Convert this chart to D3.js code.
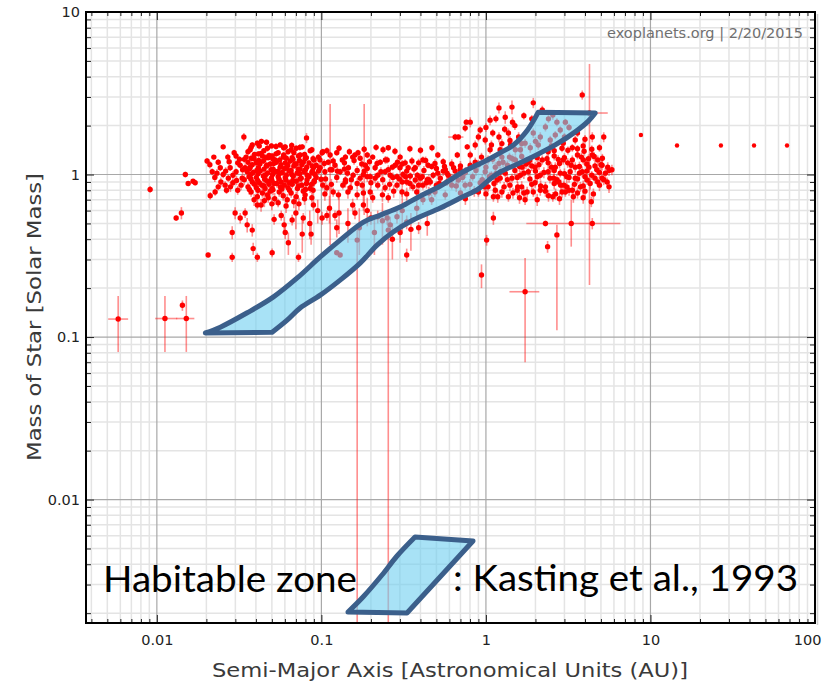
<!DOCTYPE html>
<html>
<head>
<meta charset="utf-8">
<script src="https://cdn.jsdelivr.net/npm/d3@7"></script>
<style>
  body { margin: 0; background: #fff; }
  svg { display: block; }
</style>
</head>
<body>
<svg id="chart" width="832" height="683"></svg>
<script>
// ---- axis labels ----
const xTickValues = [0.01, 0.1, 1, 10, 100];
const xTickLabels = ["0.01", "0.1", "1", "10", "100"];
const yTickValues = [0.01, 0.1, 1, 10];
const yTickLabels = ["0.01", "0.1", "1", "10"];
const xTitle = "Semi-Major Axis [Astronomical Units (AU)]";
const yTitle = "Mass of Star [Solar Mass]";
const credit = "exoplanets.org | 2/20/2015";
const legendLabel = "Habitable zone";
const legendSource = ": Kasting et al., 1993";

// ---- planets: [semi-major axis (AU), host star mass (Msun), mass uncertainty (Msun)] ----
const planets = [
  [0.0091,0.81,0.04],[0.0149,1.0,0.04],[0.0155,0.88,0.03],[0.0166,0.91,0.03],[0.0171,0.89,0.03],
  [0.0131,0.54,0.02],[0.0141,0.58,0.05],[0.0205,0.32,0.01],[0.0202,1.21,0.05],[0.0222,1.28,0.04],
  [0.0236,1.19,0.05],[0.0253,1.48,0.05],[0.0338,1.70,0.10],[0.0303,1.30,0.05],[0.031,1.18,0.06],
  [0.0211,0.74,0.04],[0.0226,0.78,0.04],[0.0236,0.84,0.04],[0.026,0.86,0.05],[0.0272,0.95,0.05],
  [0.0253,1.0,0.05],[0.0243,1.10,0.05],[0.0217,1.04,0.05],[0.0279,1.10,0.05],[0.029,0.89,0.05],
  [0.0265,0.80,0.04],[0.0303,1.04,0.05],[0.0321,1.14,0.05],[0.033,0.95,0.05],[0.031,0.80,0.05],
  [0.0344,1.10,0.06],
  [0.021,1.15,0.06],[0.0225,0.96,0.06],[0.0245,0.90,0.06],[0.0262,1.05,0.06],[0.0275,1.20,0.06],
  [0.029,0.99,0.06],[0.0305,0.92,0.06],[0.0318,1.24,0.06],[0.0325,0.86,0.06],[0.028,0.84,0.06],
  [0.0232,1.02,0.06],[0.0295,1.36,0.06],[0.027,1.28,0.06],
  [0.0358,1.38,0.06],[0.038,1.52,0.06],[0.0408,1.56,0.06],[0.0432,1.60,0.06],[0.0464,1.58,0.06],
  [0.0497,1.50,0.06],[0.0562,1.52,0.06],[0.0603,1.48,0.06],[0.0655,1.42,0.06],[0.0703,1.45,0.06],
  [0.0765,1.48,0.06],[0.0812,1.68,0.12],[0.0875,1.42,0.06],[0.096,1.28,0.06],[0.101,1.36,0.06],
  [0.0374,1.47,0.07],[0.0419,1.50,0.07],[0.047,1.45,0.07],[0.053,1.49,0.07],[0.059,1.46,0.07],
  [0.066,1.51,0.07],[0.074,1.47,0.07],
  [0.0369,1.42,0.05],[0.0414,1.34,0.05],[0.0447,1.40,0.05],[0.0502,1.30,0.05],[0.0546,1.36,0.05],
  [0.0627,1.38,0.05],[0.0743,1.32,0.05],[0.0855,1.40,0.05],
  [0.0392,1.33,0.05],[0.043,1.35,0.05],[0.0481,1.31,0.05],[0.053,1.34,0.05],[0.059,1.32,0.05],
  [0.068,1.36,0.05],[0.079,1.33,0.05],
  [0.0349,1.28,0.05],[0.039,1.25,0.05],[0.0438,1.30,0.05],[0.0475,1.27,0.05],[0.0524,1.23,0.05],
  [0.0586,1.28,0.05],[0.0664,1.27,0.05],[0.0726,1.30,0.05],[0.0797,1.25,0.05],[0.0903,1.23,0.05],
  [0.034,1.24,0.07],[0.0375,1.26,0.07],[0.0416,1.22,0.07],[0.046,1.27,0.07],[0.0506,1.25,0.07],
  [0.0558,1.23,0.07],[0.0612,1.26,0.07],[0.0672,1.24,0.07],[0.0735,1.22,0.07],[0.081,1.27,0.07],
  [0.089,1.25,0.07],[0.098,1.23,0.07],
  [0.0358,1.19,0.05],[0.0402,1.18,0.05],[0.0444,1.21,0.05],[0.0489,1.16,0.05],[0.0532,1.19,0.05],
  [0.0603,1.18,0.05],[0.0646,1.21,0.05],[0.0703,1.16,0.05],[0.0776,1.19,0.05],[0.0841,1.18,0.05],
  [0.093,1.14,0.05],
  [0.038,1.15,0.05],[0.0423,1.16,0.05],[0.0466,1.14,0.05],[0.0513,1.17,0.05],[0.0568,1.15,0.05],
  [0.0625,1.14,0.05],[0.069,1.16,0.05],[0.076,1.15,0.05],[0.088,1.13,0.05],
  [0.0369,1.11,0.05],[0.0414,1.10,0.05],[0.0464,1.13,0.05],[0.0509,1.08,0.05],[0.0562,1.11,0.05],
  [0.0616,1.10,0.05],[0.068,1.13,0.05],[0.0743,1.08,0.05],[0.0815,1.11,0.05],[0.0894,1.10,0.05],
  [0.0332,1.07,0.07],[0.0366,1.09,0.07],[0.0405,1.06,0.07],[0.0448,1.08,0.07],[0.0494,1.07,0.07],
  [0.0545,1.05,0.07],[0.0598,1.09,0.07],[0.0655,1.06,0.07],[0.0722,1.08,0.07],[0.08,1.07,0.07],
  [0.0882,1.05,0.07],[0.0975,1.09,0.07],
  [0.0354,1.04,0.05],[0.0385,1.03,0.05],[0.0425,1.05,0.05],[0.047,1.02,0.05],[0.0524,1.04,0.05],
  [0.0578,1.03,0.05],[0.0636,1.05,0.05],[0.0712,1.02,0.05],[0.0786,1.04,0.05],[0.0875,1.03,0.05],
  [0.096,1.05,0.05],
  [0.0372,1.0,0.05],[0.0412,1.01,0.05],[0.0456,0.99,0.05],[0.0505,1.0,0.05],[0.0555,1.01,0.05],
  [0.0612,0.99,0.05],[0.066,1.0,0.05],[0.074,1.01,0.05],[0.082,0.99,0.05],[0.0915,1.0,0.05],
  [0.0363,0.97,0.05],[0.0402,0.96,0.05],[0.0444,0.98,0.05],[0.0497,0.95,0.05],[0.0546,0.97,0.05],
  [0.0603,0.96,0.05],[0.0675,0.98,0.05],[0.0754,0.95,0.05],[0.0841,0.97,0.05],[0.093,0.96,0.05],
  [0.034,0.93,0.07],[0.0373,0.94,0.07],[0.041,0.92,0.07],[0.0452,0.935,0.07],[0.05,0.915,0.07],
  [0.0552,0.94,0.07],[0.0608,0.925,0.07],[0.067,0.92,0.07],[0.074,0.94,0.07],[0.0818,0.93,0.07],
  [0.0905,0.915,0.07],[0.0995,0.935,0.07],
  [0.038,0.90,0.05],[0.0419,0.89,0.05],[0.047,0.91,0.05],[0.0516,0.88,0.05],[0.057,0.90,0.05],
  [0.0636,0.89,0.05],[0.0703,0.91,0.05],[0.0812,0.88,0.05],[0.0903,0.90,0.05],
  [0.0392,0.87,0.05],[0.0435,0.86,0.05],[0.048,0.87,0.05],[0.0535,0.88,0.05],[0.0595,0.86,0.05],
  [0.0665,0.87,0.05],[0.076,0.86,0.05],[0.087,0.87,0.05],
  [0.0358,0.84,0.05],[0.0402,0.83,0.05],[0.0447,0.85,0.05],[0.0502,0.82,0.05],[0.0562,0.84,0.05],
  [0.0627,0.83,0.05],[0.0726,0.85,0.05],[0.0855,0.82,0.05],
  [0.0365,0.81,0.06],[0.0412,0.80,0.06],[0.0455,0.82,0.06],[0.0508,0.805,0.06],[0.0575,0.815,0.06],
  [0.064,0.80,0.06],[0.0715,0.82,0.06],[0.08,0.81,0.06],[0.089,0.80,0.06],
  [0.0374,0.78,0.05],[0.0438,0.77,0.05],[0.0489,0.79,0.05],[0.0554,0.78,0.05],[0.0655,0.77,0.05],
  [0.0776,0.79,0.05],
  [0.0408,0.73,0.05],[0.0475,0.72,0.05],[0.0586,0.74,0.05],[0.0703,0.73,0.05],[0.0875,0.72,0.05],
  [0.039,0.70,0.06],[0.045,0.69,0.06],[0.052,0.71,0.06],[0.062,0.70,0.06],[0.068,0.68,0.06],
  [0.079,0.71,0.06],[0.043,0.65,0.06],[0.05,0.66,0.06],[0.061,0.64,0.06],[0.073,0.66,0.06],
  [0.0299,0.58,0.05],[0.0344,0.58,0.04],[0.0321,0.54,0.04],[0.0354,0.49,0.05],[0.038,0.455,0.04],
  [0.0287,0.44,0.04],[0.0385,0.35,0.03],[0.0408,0.31,0.02],[0.0287,0.31,0.02],[0.0502,0.33,0.02],
  [0.0726,0.31,0.02],[0.0516,0.53,0.04],[0.057,0.56,0.04],[0.0594,0.49,0.06],[0.0664,0.525,0.04],
  [0.0603,0.44,0.04],[0.0776,0.54,0.04],[0.0765,0.43,0.10],[0.0866,0.43,0.06],[0.0894,0.65,0.05],
  [0.0797,0.75,0.04],[0.0546,0.67,0.04],[0.047,0.75,0.04],[0.0408,0.65,0.04],
  [0.102,1.38,0.06],[0.113,1.32,0.06],[0.124,1.36,0.05],[0.14,1.28,0.06],[0.155,1.28,0.05],
  [0.16,1.32,0.05],[0.167,1.36,0.06],[0.172,1.26,0.05],[0.19,1.32,0.06],[0.205,1.28,0.05],
  [0.237,1.42,0.08],[0.255,1.46,0.06],[0.251,1.23,0.06],[0.27,1.11,0.05],[0.301,1.28,0.06],
  [0.323,1.18,0.06],[0.337,1.10,0.05],[0.414,1.23,0.06],[0.445,1.14,0.05],[0.51,1.32,0.06],
  [0.55,1.20,0.06],[0.68,1.70,0.06],[0.67,1.32,0.06],[0.748,1.93,0.10],[0.76,2.10,0.08],
  [0.77,1.48,0.06],
  [0.108,1.40,0.07],[0.128,1.45,0.07],[0.148,1.38,0.07],[0.182,1.43,0.07],[0.215,1.47,0.07],
  [0.28,1.39,0.07],[0.345,1.44,0.07],[0.40,1.41,0.07],[0.47,1.46,0.07],
  [0.104,1.17,0.07],[0.118,1.21,0.07],[0.138,1.18,0.07],[0.158,1.22,0.07],[0.176,1.16,0.07],
  [0.196,1.20,0.07],[0.218,1.17,0.07],[0.245,1.23,0.07],[0.29,1.19,0.07],[0.31,1.16,0.07],
  [0.355,1.21,0.07],[0.39,1.18,0.07],[0.43,1.22,0.07],[0.49,1.17,0.07],
  [0.125,1.05,0.07],[0.138,1.08,0.07],[0.165,1.06,0.07],[0.19,1.09,0.07],[0.23,1.04,0.07],
  [0.255,1.07,0.07],[0.30,1.10,0.07],[0.33,1.05,0.07],[0.365,1.08,0.07],[0.42,1.06,0.07],
  [0.50,1.09,0.07],[0.55,1.05,0.07],
  [0.0984,1.10,0.05],[0.105,1.04,0.05],[0.116,1.07,0.05],[0.13,1.04,0.05],[0.144,1.02,0.05],
  [0.156,0.99,0.05],[0.18,1.0,0.05],[0.198,0.97,0.05],[0.22,0.99,0.05],[0.244,1.04,0.05],
  [0.262,0.99,0.05],[0.288,0.97,0.05],[0.313,1.0,0.05],[0.347,0.98,0.05],[0.383,0.99,0.05],
  [0.41,0.97,0.05],[0.44,0.93,0.05],[0.478,0.99,0.05],[0.51,1.02,0.05],[0.566,1.07,0.05],
  [0.59,0.99,0.05],[0.636,1.10,0.05],[0.698,1.07,0.05],
  [0.106,0.94,0.07],[0.124,0.96,0.07],[0.152,0.93,0.07],[0.19,0.97,0.07],[0.212,0.95,0.07],
  [0.236,0.93,0.07],[0.272,0.96,0.07],[0.298,0.94,0.07],[0.325,0.97,0.07],[0.40,0.95,0.07],
  [0.45,0.93,0.07],
  [0.115,0.87,0.07],[0.14,0.90,0.07],[0.165,0.88,0.07],[0.20,0.89,0.07],[0.26,0.87,0.07],
  [0.31,0.90,0.07],[0.345,0.88,0.07],[0.39,0.86,0.07],[0.435,0.89,0.07],[0.52,0.88,0.07],
  [0.102,0.86,0.05],[0.108,0.83,0.05],[0.118,0.78,0.05],[0.127,0.75,0.05],[0.135,0.86,0.05],
  [0.150,0.83,0.05],[0.165,0.75,0.05],[0.177,0.86,0.05],[0.198,0.78,0.05],[0.205,0.72,0.05],
  [0.22,0.86,0.05],[0.244,0.83,0.05],[0.255,0.72,0.05],[0.288,0.86,0.05],[0.309,0.78,0.05],
  [0.33,0.90,0.05],[0.36,0.84,0.05],[0.414,0.86,0.05],[0.459,0.90,0.05],[0.50,0.86,0.05],
  [0.58,0.90,0.05],[0.62,0.86,0.05],[0.68,0.925,0.05],
  [0.105,0.76,0.07],[0.145,0.78,0.07],[0.18,0.77,0.07],[0.235,0.75,0.07],[0.275,0.79,0.07],
  [0.33,0.76,0.07],[0.38,0.78,0.07],[0.45,0.77,0.07],
  [0.101,0.54,0.05],[0.108,0.56,0.04],[0.121,0.56,0.04],[0.124,0.47,0.06],[0.155,0.65,0.06],
  [0.16,0.58,0.05],[0.18,0.65,0.05],[0.20,0.54,0.05],[0.22,0.55,0.05],[0.251,0.54,0.05],
  [0.262,0.49,0.06],[0.288,0.55,0.05],[0.301,0.44,0.06],[0.33,0.51,0.05],[0.39,0.47,0.04],
  [0.414,0.70,0.05],[0.468,0.70,0.05],[0.33,0.32,0.03],[0.124,0.33,0.01],[0.13,0.32,0.01],
  [0.112,0.62,0.12],[0.128,0.58,0.15],[0.145,0.50,0.12],[0.17,0.47,0.15],[0.19,0.60,0.12],
  [0.21,0.44,0.12],[0.235,0.52,0.15],[0.27,0.40,0.10],[0.31,0.60,0.15],[0.35,0.46,0.12],
  [0.44,0.50,0.08],[0.38,0.62,0.10],[0.095,0.60,0.10],[0.085,0.50,0.10],[0.07,0.58,0.12],
  [0.063,0.38,0.06],
  [0.11,1.19,0.05],[0.121,1.14,0.05],[0.134,1.23,0.05],[0.146,1.10,0.05],[0.185,1.14,0.05],
  [0.212,1.10,0.05],[0.228,1.19,0.05],[0.281,1.14,0.05],[0.372,1.10,0.05],[0.468,1.12,0.05],
  [0.528,0.95,0.05],[0.72,0.99,0.05],[0.748,0.86,0.05],[0.14,0.925,0.05],[0.172,0.95,0.05],
  [0.372,0.925,0.05],[0.49,0.78,0.05],[0.566,0.75,0.05],
  [3.85,3.09,0.20],[1.94,2.76,0.20],[1.44,2.60,0.25],[1.20,2.57,0.20],[1.31,2.25,0.20],
  [1.06,2.16,0.15],[0.803,2.10,0.15],[1.45,2.10,0.15],[2.55,2.32,0.15],[4.43,1.70,0.12],
  [5.20,1.70,0.12],[1.20,1.70,0.12],[1.37,1.80,0.12],[1.58,1.70,0.12],[1.73,1.56,0.10],
  [1.94,1.80,0.12],[2.14,1.70,0.12],[2.30,1.96,0.12],[2.46,1.63,0.10],[2.95,1.56,0.10],
  [3.49,1.63,0.10],[0.923,1.88,0.10],[0.99,1.63,0.10],[0.861,1.52,0.10],[1.08,1.52,0.10],
  [1.51,1.42,0.10],[1.86,1.46,0.10],[2.08,1.52,0.10],[2.39,1.38,0.10],
  [0.9,1.70,0.10],[1.0,1.95,0.12],[1.1,1.80,0.10],[1.15,2.20,0.12],[1.3,1.90,0.10],
  [1.5,2.00,0.12],[1.7,2.30,0.12],[1.9,2.20,0.12],[2.2,2.50,0.15],[2.4,2.20,0.12],
  [2.7,2.10,0.12],[3.2,1.95,0.10],[3.0,1.70,0.10],[3.6,1.80,0.10],[4.0,1.65,0.10],
  [1.4,1.62,0.10],[1.25,1.55,0.10],[1.65,1.55,0.10],[2.0,1.60,0.10],[2.5,1.50,0.10],
  [3.9,1.50,0.10],
  [2.6,1.40,0.08],[2.9,1.45,0.08],[3.15,1.41,0.08],[3.6,1.44,0.08],[3.95,1.39,0.08],
  [4.4,1.43,0.08],[4.9,1.46,0.08],
  [3.35,1.46,0.08],[3.60,1.32,0.08],[3.91,1.23,0.08],[4.43,1.32,0.08],[4.78,1.23,0.08],
  [5.08,1.14,0.08],[5.50,1.11,0.08],[5.83,1.07,0.08],[5.32,1.02,0.08],[4.72,1.07,0.08],
  [4.23,1.11,0.08],[3.85,1.04,0.08],[3.49,1.11,0.08],[3.14,1.18,0.08],[2.95,1.23,0.08],
  [2.64,1.11,0.08],[2.39,1.18,0.08],[2.20,1.23,0.08],[1.99,1.11,0.08],[1.81,1.19,0.08],
  [1.66,1.11,0.08],[1.51,1.23,0.08],[1.39,1.28,0.08],[1.27,1.19,0.08],[1.14,1.11,0.08],
  [1.03,1.23,0.08],[0.94,1.28,0.08],[0.861,1.19,0.08],[0.803,1.14,0.08],
  [1.1,1.24,0.08],[1.25,1.28,0.08],[1.45,1.25,0.08],[1.65,1.29,0.08],[1.85,1.23,0.08],
  [2.05,1.27,0.08],[2.35,1.25,0.08],[2.6,1.30,0.08],[2.75,1.24,0.08],[3.0,1.27,0.08],
  [3.35,1.23,0.08],[3.8,1.28,0.08],[4.2,1.25,0.08],[4.55,1.29,0.08],[5.1,1.26,0.08],
  [0.56,1.12,0.08],[0.62,1.16,0.08],[0.70,1.13,0.08],[0.90,1.15,0.08],[1.0,1.11,0.08],
  [1.2,1.17,0.08],[1.35,1.14,0.08],[1.6,1.12,0.08],[1.75,1.16,0.08],[1.9,1.13,0.08],
  [2.1,1.15,0.08],[2.5,1.11,0.08],[2.8,1.17,0.08],[3.3,1.14,0.08],[3.7,1.12,0.08],
  [4.1,1.16,0.08],[4.6,1.13,0.08],[5.0,1.15,0.08],
  [0.58,1.02,0.08],[0.65,1.05,0.08],[0.75,1.03,0.08],[0.87,1.06,0.08],[1.15,1.01,0.08],
  [1.23,1.04,0.08],[1.5,1.06,0.08],[1.7,1.02,0.08],[2.0,1.05,0.08],[2.25,1.03,0.08],
  [2.6,1.06,0.08],[3.0,1.01,0.08],[3.25,1.04,0.08],[3.7,1.02,0.08],[4.1,1.05,0.08],
  [4.9,1.03,0.08],[5.6,1.06,0.08],
  [0.62,0.94,0.07],[0.72,0.96,0.07],[0.95,0.93,0.07],[1.05,0.97,0.07],[1.22,0.95,0.07],
  [1.35,0.93,0.07],[1.55,0.96,0.07],[1.85,0.94,0.07],[2.05,0.97,0.07],[2.45,0.95,0.07],
  [2.7,0.93,0.07],[3.2,0.96,0.07],[3.6,0.94,0.07],[4.0,0.97,0.07],[4.6,0.95,0.07],
  [5.2,0.93,0.07],
  [0.66,0.85,0.07],[0.8,0.87,0.07],[0.98,0.84,0.07],[1.12,0.88,0.07],[1.4,0.86,0.07],
  [1.65,0.84,0.07],[1.9,0.87,0.07],[2.15,0.85,0.07],[2.6,0.88,0.07],[2.85,0.86,0.07],
  [3.1,0.84,0.07],[3.45,0.87,0.07],[3.9,0.85,0.07],[4.3,0.88,0.07],[4.9,0.86,0.07],
  [5.6,0.84,0.07],
  [0.7,0.77,0.06],[0.85,0.79,0.06],[1.0,0.76,0.06],[1.25,0.78,0.06],[1.55,0.80,0.06],
  [1.7,0.77,0.06],[2.3,0.79,0.06],[2.65,0.76,0.06],[2.9,0.78,0.06],[3.2,0.80,0.06],
  [3.6,0.77,0.06],[4.0,0.79,0.06],[4.5,0.76,0.06],
  [0.75,0.71,0.06],[1.18,0.73,0.06],[1.6,0.72,0.06],[2.05,0.70,0.06],[2.4,0.74,0.06],
  [2.8,0.71,0.06],[3.4,0.73,0.06],[3.9,0.72,0.06],
  [0.83,0.97,0.06],[0.923,0.89,0.06],[1.03,0.84,0.06],[1.17,0.925,0.06],[1.29,0.84,0.06],
  [1.46,0.77,0.06],[1.56,0.84,0.06],[1.78,0.78,0.06],[1.99,0.89,0.06],[2.30,0.84,0.06],
  [2.58,0.95,0.06],[2.98,0.86,0.06],[3.35,0.80,0.06],[3.75,0.84,0.06],[4.12,0.925,0.06],
  [5.45,0.90,0.06],[2.55,0.73,0.05],[3.04,0.78,0.05],[1.94,0.78,0.05],[1.37,0.73,0.05],
  [1.73,0.70,0.05],[1.11,0.73,0.05],
  [0.99,1.04,0.06],[1.08,0.99,0.06],[1.31,1.02,0.06],[1.44,0.95,0.06],[1.62,0.99,0.06],
  [1.81,1.04,0.06],[2.14,0.99,0.06],[2.39,1.04,0.06],[2.83,1.02,0.06],[3.10,0.97,0.06],
  [3.49,0.95,0.06],[4.40,0.99,0.06],[4.78,0.90,0.06],[5.08,0.95,0.06],[2.77,0.90,0.06],
  [2.14,0.80,0.06],[1.14,0.80,0.06],[0.90,0.78,0.05],
  [1.22,1.42,0.10],[1.41,1.52,0.10],[1.62,1.42,0.10],[0.803,1.32,0.08],[1.06,1.42,0.08],
  [2.83,1.88,0.10],[3.04,2.10,0.10],[2.64,1.75,0.10],
  [1.11,0.54,0.05],[4.43,0.50,0.04],[4.37,0.68,0.05],[1.01,0.395,0.03],[2.37,0.36,0.03],
  [8.75,1.75,0],[14.5,1.51,0],[26.8,1.51,0],[42.6,1.51,0],[67.6,1.51,0]
];

// ---- planets with asymmetric uncertainties: [a, M, aLow, aHigh, MLow, MHigh] ----
const planetsWithErrors = [
  [0.00582, 0.129, 0.00506, 0.00669, 0.081, 0.179],
  [0.0112, 0.130, 0.00977, 0.0133, 0.081, 0.179],
  [0.0151, 0.130, 0.0131, 0.0169, 0.081, 0.179],
  [0.0143, 0.157, 0.0143, 0.0143, 0.145, 0.168],
  [0.113, 1.07, 0.113, 0.113, 0.368, 2.72],
  [0.182, 1.05, 0.182, 0.182, 0.563, 2.72],
  [0.165, 0.395, 0.165, 0.165, 0.001, 0.489],
  [0.255, 0.455, 0.255, 0.255, 0.001, 0.59],
  [0.65, 1.70, 0.59, 0.73, 1.62, 1.78],
  [2.30, 0.50, 1.76, 6.56, 0.48, 0.52],
  [3.30, 0.50, 3.30, 3.30, 0.36, 0.70],
  [0.94, 0.241, 0.94, 0.94, 0.20, 0.28],
  [2.70, 0.425, 2.70, 2.70, 0.11, 0.49],
  [1.73, 0.19, 1.39, 2.11, 0.070, 0.306],
  [4.26, 2.39, 3.93, 5.50, 0.209, 4.79]
];

// ---- habitable zone edges (Kasting et al. 1993): [a (AU), M (Msun)] ----
const hzInner = [
  [0.0197,0.106],[0.0243,0.115],[0.0354,0.141],[0.0509,0.176],[0.0713,0.231],[0.0984,0.311],
  [0.130,0.395],[0.180,0.510],[0.228,0.563],[0.301,0.631],[0.399,0.738],[0.528,0.850],
  [0.728,1.04],[1.02,1.23],[1.22,1.36],[1.47,1.52],[1.79,1.88],[2.08,2.42]
];
const hzOuter = [
  [0.0502,0.107],[0.0619,0.127],[0.0743,0.151],[0.0984,0.181],[0.130,0.224],[0.172,0.285],
  [0.218,0.368],[0.273,0.443],[0.361,0.525],[0.528,0.622],[0.698,0.717],[0.897,0.814],
  [1.06,0.938],[1.22,1.036],[1.56,1.16],[1.97,1.30],[2.64,1.52],[3.49,1.83],[4.19,2.13],
  [4.62,2.39]
];

// ---- layout ----
const W = 832, H = 683;
const plot = { left: 86, top: 12, right: 815, bottom: 623 };

const svg = d3.select("#chart");
const x = d3.scaleLog().domain([0.00371, 100]).range([plot.left, plot.right]);
const y = d3.scaleLog().domain([0.00174, 10]).range([plot.bottom, plot.top]);

// minor / major tick positions inside each domain
function logTicks(domain) {
  const out = { minor: [], major: [] };
  for (let e = -4; e <= 2; e++) {
    for (let k = 1; k <= 9; k++) {
      const v = k * Math.pow(10, e);
      if (v < domain[0] * 0.999 || v > domain[1] * 1.001) continue;
      (k === 1 ? out.major : out.minor).push(+v.toPrecision(6));
    }
  }
  return out;
}
const xt = logTicks(x.domain());
const yt = logTicks(y.domain());

svg.append("rect").attr("width", W).attr("height", H).attr("fill", "#fff");

// grid
const grid = svg.append("g");
grid.selectAll(".gxm").data(xt.minor).join("line")
  .attr("x1", d => x(d)).attr("x2", d => x(d)).attr("y1", plot.top).attr("y2", plot.bottom)
  .attr("stroke", "#e4e4e4").attr("stroke-width", 1.5);
grid.selectAll(".gym").data(yt.minor).join("line")
  .attr("y1", d => y(d)).attr("y2", d => y(d)).attr("x1", plot.left).attr("x2", plot.right)
  .attr("stroke", "#e4e4e4").attr("stroke-width", 1.5);
grid.selectAll(".gxM").data(xt.major).join("line")
  .attr("x1", d => x(d)).attr("x2", d => x(d)).attr("y1", plot.top).attr("y2", plot.bottom)
  .attr("stroke", "#a8a8a8").attr("stroke-width", 1.2);
grid.selectAll(".gyM").data(yt.major).join("line")
  .attr("y1", d => y(d)).attr("y2", d => y(d)).attr("x1", plot.left).attr("x2", plot.right)
  .attr("stroke", "#a8a8a8").attr("stroke-width", 1.2);

// clip for the data
svg.append("clipPath").attr("id", "plotClip").append("rect")
  .attr("x", plot.left).attr("y", plot.top)
  .attr("width", plot.right - plot.left).attr("height", plot.bottom - plot.top);

const data = svg.append("g").attr("clip-path", "url(#plotClip)");
const errColor = "rgba(255,30,30,0.5)";

// error bars
const eb = data.append("g").attr("stroke", errColor).attr("stroke-width", 1.6);
eb.selectAll(".ev").data(planets.filter(d => d[2] > 0)).join("line")
  .attr("x1", d => x(d[0])).attr("x2", d => x(d[0]))
  .attr("y1", d => y(d[1] + d[2])).attr("y2", d => y(Math.max(d[1] - d[2], 0.0005)));
eb.selectAll(".wv").data(planetsWithErrors).join("line")
  .attr("x1", d => x(d[0])).attr("x2", d => x(d[0]))
  .attr("y1", d => y(d[5])).attr("y2", d => y(d[4]));
eb.selectAll(".wh").data(planetsWithErrors.filter(d => d[3] > d[2])).join("line")
  .attr("x1", d => x(d[2])).attr("x2", d => x(d[3]))
  .attr("y1", d => y(d[1])).attr("y2", d => y(d[1]));

// points
data.append("g").selectAll("circle").data(planets.concat(planetsWithErrors)).join("circle")
  .attr("cx", d => x(d[0])).attr("cy", d => y(d[1]))
  .attr("r", d => d[0] > 7 ? 2.2 : 2.7)
  .attr("fill", "#ff0000");

// habitable zone band
const edge = d3.line().x(d => x(d[0])).y(d => y(d[1])).curve(d3.curveCatmullRom.alpha(0.5));
const bandPath = edge(hzInner) + edge(hzOuter.slice().reverse()).replace(/^M/, "L") + "Z";
data.append("path").attr("d", bandPath)
  .attr("fill", "#6ecff0").attr("fill-opacity", 0.6)
  .attr("stroke", "#3b5f8b").attr("stroke-width", 5).attr("stroke-linejoin", "round");

// axes ticks (inward on all four sides)
function tickAxis(axisFn, scale, vals, size, transform) {
  svg.append("g").attr("transform", transform)
    .call(axisFn(scale).tickValues(vals).tickSize(size).tickFormat(""))
    .call(g => g.select(".domain").remove())
    .selectAll("line").attr("stroke", "#222").attr("stroke-width", 1);
}
tickAxis(d3.axisBottom, x, xt.minor, -4, `translate(0,${plot.bottom})`);
tickAxis(d3.axisBottom, x, xt.major, -8, `translate(0,${plot.bottom})`);
tickAxis(d3.axisTop, x, xt.minor, -4, `translate(0,${plot.top})`);
tickAxis(d3.axisTop, x, xt.major, -8, `translate(0,${plot.top})`);
tickAxis(d3.axisLeft, y, yt.minor, -5, `translate(${plot.left},0)`);
tickAxis(d3.axisLeft, y, yt.major, -8, `translate(${plot.left},0)`);
tickAxis(d3.axisRight, y, yt.minor, -5, `translate(${plot.right},0)`);
tickAxis(d3.axisRight, y, yt.major, -8, `translate(${plot.right},0)`);

// frame
svg.append("line").attr("x1", plot.right + 2.5).attr("x2", plot.right + 2.5)
  .attr("y1", plot.top + 2).attr("y2", plot.bottom + 2).attr("stroke", "#d0d0d0").attr("stroke-width", 1.5);
svg.append("rect").attr("x", plot.left).attr("y", plot.top)
  .attr("width", plot.right - plot.left).attr("height", plot.bottom - plot.top)
  .attr("fill", "none").attr("stroke", "#000").attr("stroke-width", 2);

// tick labels
const labelFont = "'DejaVu Sans', Verdana, sans-serif";
svg.append("g").attr("transform", `translate(${plot.left},0)`)
  .call(d3.axisLeft(y).tickValues(yTickValues).tickSize(0).tickPadding(6)
    .tickFormat((d, i) => yTickLabels[i]))
  .call(g => g.select(".domain").remove())
  .selectAll("text").attr("font-family", labelFont).attr("font-size", 14.5).attr("fill", "#222");
svg.append("g").attr("transform", `translate(0,${plot.bottom})`)
  .call(d3.axisBottom(x).tickValues(xTickValues).tickSize(0).tickPadding(12)
    .tickFormat((d, i) => xTickLabels[i]))
  .call(g => g.select(".domain").remove())
  .selectAll("text").attr("font-family", labelFont).attr("font-size", 14.5).attr("fill", "#222")
  .filter((d, i) => i === xTickValues.length - 1).attr("text-anchor", "end").attr("x", 6);

// axis titles
svg.append("text").attr("x", 450).attr("y", 677).attr("text-anchor", "middle")
  .attr("font-family", labelFont).attr("font-size", 19).attr("fill", "#3a3a3a")
  .attr("textLength", 476).attr("lengthAdjust", "spacingAndGlyphs").text(xTitle);
svg.append("text").attr("transform", "translate(41,317) rotate(-90)").attr("text-anchor", "middle")
  .attr("font-family", labelFont).attr("font-size", 19).attr("fill", "#3a3a3a")
  .attr("textLength", 288).attr("lengthAdjust", "spacingAndGlyphs").text(yTitle);

// credit line
svg.append("text").attr("x", 803).attr("y", 38).attr("text-anchor", "end")
  .attr("font-family", labelFont).attr("font-size", 14.5).attr("fill", "#707070").text(credit);

// legend: habitable zone glyph with its source
const legendFont = "Lato, 'Open Sans', sans-serif";
svg.append("text").attr("x", 103).attr("y", 592)
  .attr("font-family", legendFont).attr("font-size", 37).attr("fill", "#000")
  .attr("textLength", 254).attr("lengthAdjust", "spacingAndGlyphs").text(legendLabel);
const glyphLeft = d3.line().curve(d3.curveCatmullRom.alpha(0.5))([[348,612],[363,597],[382,575],[397,556],[415,537]]);
svg.append("path").attr("d", glyphLeft + "L473,541L407,613Z")
  .attr("fill", "#6ecff0").attr("fill-opacity", 0.6)
  .attr("stroke", "#3b5f8b").attr("stroke-width", 5).attr("stroke-linejoin", "round");
svg.append("text").attr("x", 453).attr("y", 591)
  .attr("font-family", legendFont).attr("font-size", 37).attr("fill", "#000")
  .attr("textLength", 345).attr("lengthAdjust", "spacingAndGlyphs").text(legendSource);
</script>
</body>
</html>
